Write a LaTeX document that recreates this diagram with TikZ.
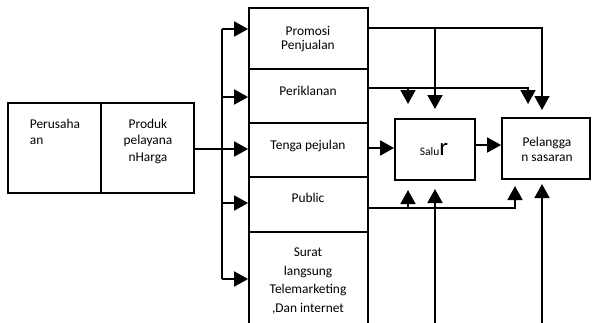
\documentclass[tikz,border=0pt]{standalone}
\usepackage{fontspec}
\setmainfont{Carlito}
\usetikzlibrary{arrows.meta,calc}
\begin{document}
\begin{tikzpicture}[x=1pt,y=-1pt,line width=1.8pt,
  boxnode/.style={draw,line width=1.8pt,inner sep=0pt},
  txt/.style={inner sep=0pt,font=\fontsize{13.4}{16.7}\selectfont},
  arr/.style={-{Triangle[length=14pt,width=15pt]}}]
\useasboundingbox (0,0) rectangle (592,322);
\clip (0,0) rectangle (592,322);
% boxes
\node[boxnode,minimum width=93pt,minimum height=90pt] (per) at (54.5,148) {};
\node[boxnode,minimum width=93pt,minimum height=90pt] (prod) at (147.5,148) {};
\node[boxnode,minimum width=119pt,minimum height=61pt] (promo) at (308.5,38.5) {};
\node[boxnode,minimum width=119pt,minimum height=54pt] (ikl) at (308.5,96) {};
\node[boxnode,minimum width=119pt,minimum height=54pt] (tenga) at (308.5,150) {};
\node[boxnode,minimum width=119pt,minimum height=55pt] (pub) at (308.5,204.5) {};
\node[boxnode,minimum width=119pt,minimum height=110pt] (surat) at (308.5,287) {};
\node[boxnode,minimum width=80pt,minimum height=61pt] (salur) at (435,149.5) {};
\node[boxnode,minimum width=88pt,minimum height=61pt] (pel) at (546,148.5) {};
% texts
\node[txt,anchor=north west,align=left] (tper) at (29,118) {Perusaha\\an};
\node[txt,anchor=north,align=center] (tprod) at (148,118) {Produk\\pelayana\\nHarga};
\node[txt,anchor=north,align=center,font=\fontsize{13.4}{14.5}\selectfont] (tpromo) at (308,25) {Promosi\\Penjualan};
\node[txt,anchor=north] (tikl) at (308,85) {Periklanan};
\node[txt,anchor=north] (ttenga) at (308,139) {Tenga pejulan};
\node[txt,anchor=north] (tpub) at (308,192) {Public};
\node[txt,anchor=north,align=center,font=\fontsize{13.4}{18.5}\selectfont] (tsurat) at (308,247) {Surat\\langsung\\Telemarketing\\,Dan internet};
\node[txt,anchor=base west] (tsalur) at (419,155) {\fontsize{11.5}{13}\selectfont Salu\fontsize{25}{28}\selectfont r};
\node[txt,anchor=north,align=center,font=\fontsize{13.4}{15.5}\selectfont] (tpel) at (547,136) {Pelangga\\n sasaran};
% coordinates
\coordinate (bt) at (222,29);
\coordinate (b2) at (222,97);
\coordinate (b3) at (222,149);
\coordinate (b4) at (222,203);
\coordinate (bb) at (222,279);
\coordinate (ya) at (0,28);
\coordinate (yb) at (0,88);
\coordinate (yc) at (0,208);
\coordinate (yd) at (0,148);
\coordinate (ye) at (0,145);
\coordinate (p1) at (542,110);
\coordinate (s1) at (435,109);
\coordinate (s2) at (408,104);
\coordinate (p2) at (528,104);
\coordinate (s3) at (408,190);
\coordinate (p3) at (515,186);
\coordinate (s4) at (435,189);
\coordinate (p4) at (542,184);
\coordinate (sb) at (435,330);
\coordinate (pb) at (542,330);
% bus
\draw (bt) -- (bb);
\draw[arr] (bt) -- (promo.west |- bt);
\draw[arr] (b2) -- (ikl.west |- b2);
\draw[arr] (prod.east |- b3) -- (tenga.west |- b3);
\draw[arr] (b4) -- (pub.west |- b4);
\draw[arr] (bb) -- (surat.west |- bb);
% right side
\draw[arr] (promo.east |- ya) -| (p1);
\draw[arr] (s1 |- ya) -- (s1);
\draw[arr] (ikl.east |- yb) -| (p2);
\draw[arr] (s2 |- yb) -- (s2);
\draw[arr] (pub.east |- yc) -| (p3);
\draw[arr] (s3 |- yc) -- (s3);
\draw[arr] (sb) -- (s4);
\draw[arr] (pb) -- (p4);
\draw[arr] (tenga.east |- yd) -- (salur.west |- yd);
\draw[arr] (salur.east |- ye) -- (pel.west |- ye);
\end{tikzpicture}
\end{document}
